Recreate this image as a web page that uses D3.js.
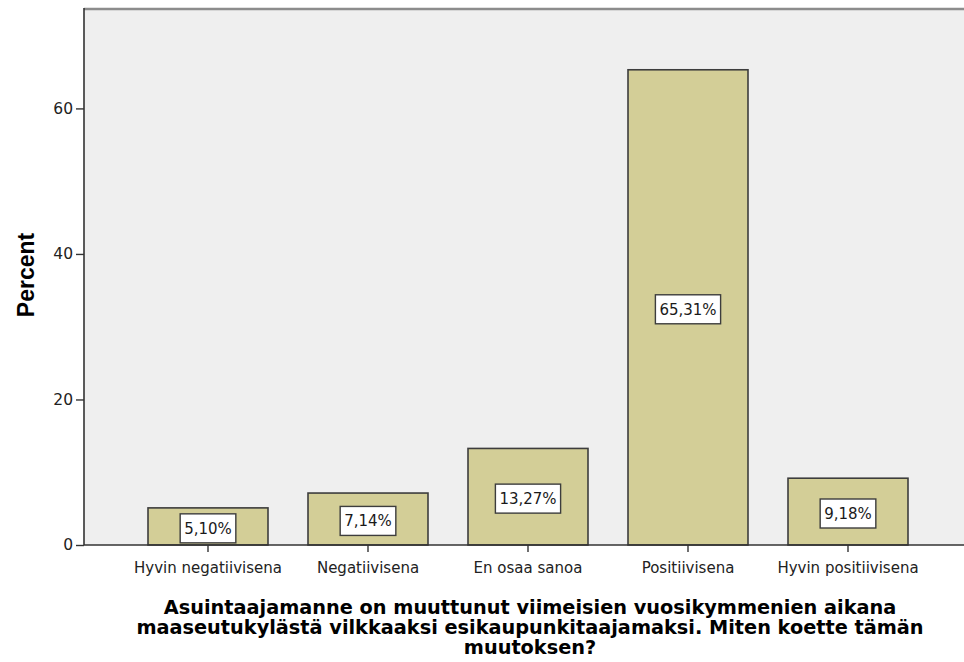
<!DOCTYPE html>
<html>
<head>
<meta charset="utf-8">
<script src="https://cdn.jsdelivr.net/npm/d3@7"></script>
<style>
  body { margin: 0; background: #fff; }
  svg { display: block; }
</style>
</head>
<body>
<div id="chart"></div>
<script>
'use strict';

// data
var categories = ["Hyvin negatiivisena", "Negatiivisena", "En osaa sanoa", "Positiivisena", "Hyvin positiivisena"];
var percents = [5.10, 7.14, 13.27, 65.31, 9.18];
var yTicks = [0, 20, 40, 60];
var yTitle = "Percent";
var xTitleLines = [
  "Asuintaajamanne on muuttunut viimeisien vuosikymmenien aikana",
  "maaseutukylästä vilkkaaksi esikaupunkitaajamaksi. Miten koette tämän",
  "muutoksen?"
];

var svgWidth = 964, svgHeight = 662;
var margin = {top: 8, right: 0, bottom: 117, left: 84};
var width = svgWidth - margin.left - margin.right;
var height = svgHeight - margin.top - margin.bottom;

var svg = d3.select("#chart").append("svg")
    .attr("width", svgWidth)
    .attr("height", svgHeight);

var g = svg.append("g").attr("transform", "translate(" + margin.left + "," + margin.top + ")");

var x = d3.scaleBand()
    .domain(categories)
    .range([44, 844])
    .paddingInner(0.25)
    .paddingOuter(0.125);

var y = d3.scaleLinear()
    .domain([0, 73.8])
    .range([height, 0]);

// plot background
g.append("rect")
    .attr("width", width)
    .attr("height", height)
    .attr("fill", "#efefef");

g.append("line")
    .attr("x1", 0).attr("x2", width)
    .attr("y1", 1).attr("y2", 1)
    .attr("stroke", "#8c8c8c")
    .attr("stroke-width", 2.5);

// bars
g.selectAll(".bar")
    .data(percents)
    .enter().append("rect")
    .attr("class", "bar")
    .attr("x", function(d, i) { return x(categories[i]); })
    .attr("y", function(d) { return y(d); })
    .attr("width", x.bandwidth())
    .attr("height", function(d) { return y(0) - y(d); })
    .attr("fill", "#d3ce97")
    .attr("stroke", "#3d3d3d")
    .attr("stroke-width", 1.6);

// value labels in white boxes
var labels = g.selectAll(".lbl")
    .data(percents)
    .enter().append("g")
    .attr("class", "lbl")
    .attr("transform", function(d, i) {
      return "translate(" + (x(categories[i]) + x.bandwidth() / 2) + "," + ((y(d) + y(0)) / 2 + 2) + ")";
    });

labels.append("rect").attr("fill", "#fff").attr("stroke", "#3d3d3d").attr("stroke-width", 1.4);
labels.append("text")
    .attr("text-anchor", "middle")
    .attr("dy", "0.36em")
    .style("font-family", "'DejaVu Sans', sans-serif")
    .style("font-size", "15px")
    .attr("fill", "#1a1a1a")
    .text(function(d) { return d.toFixed(2).replace(".", ",") + "%"; });

labels.each(function() {
  var bb = d3.select(this).select("text").node().getBBox();
  d3.select(this).select("rect")
    .attr("x", bb.x - 4).attr("y", bb.y - 6)
    .attr("width", bb.width + 8).attr("height", bb.height + 11);
});

// x axis
var xAxis = g.append("g")
    .attr("transform", "translate(0," + height + ")")
    .call(d3.axisBottom(x).tickSize(7).tickPadding(10));
xAxis.select(".domain").attr("d", "M0,0H" + width).attr("stroke", "#333").attr("stroke-width", 1.6);
xAxis.selectAll(".tick line").attr("stroke", "#333").attr("stroke-width", 1.4);
xAxis.selectAll(".tick text")
    .style("font-family", "'DejaVu Sans', sans-serif")
    .style("font-size", "15px")
    .attr("fill", "#222");

// y axis
var yAxis = g.append("g")
    .call(d3.axisLeft(y).tickValues(yTicks).tickSize(8).tickPadding(3));
yAxis.select(".domain").attr("d", "M0,0V" + height).attr("stroke", "#333").attr("stroke-width", 1.6);
yAxis.selectAll(".tick line").attr("stroke", "#333").attr("stroke-width", 1.4);
yAxis.selectAll(".tick text")
    .style("font-family", "'DejaVu Sans', sans-serif")
    .style("font-size", "15.5px")
    .attr("fill", "#222");

// axis titles
svg.append("text")
    .attr("transform", "translate(34,275) rotate(-90)")
    .attr("text-anchor", "middle")
    .style("font-family", "'Liberation Sans', Arial, sans-serif")
    .style("font-weight", "bold")
    .style("font-size", "23px")
    .attr("fill", "#000")
    .text(yTitle);

var xTitle = svg.append("text")
    .attr("text-anchor", "middle")
    .style("font-family", "'Liberation Sans Narrow', 'DejaVu Sans', sans-serif")
    .style("font-weight", "bold")
    .style("font-size", "20px")
    .attr("fill", "#000");

xTitle.selectAll("tspan")
    .data(xTitleLines)
    .enter().append("tspan")
    .attr("x", 530)
    .attr("y", function(d, i) { return 614 + i * 20; })
    .text(function(d) { return d; });

// fit the first line to the width it has in the reference
var firstLen = xTitle.select("tspan").node().getComputedTextLength();
xTitle.style("font-size", Math.min(22, 20 * 733 / firstLen) + "px");
</script>
</body>
</html>
